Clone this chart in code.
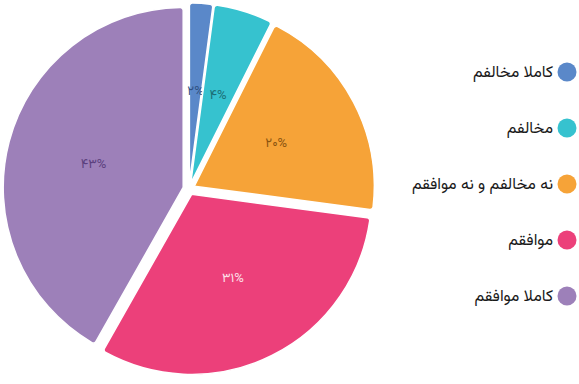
<!DOCTYPE html>
<html>
<head>
<meta charset="utf-8">
<script src="https://cdn.jsdelivr.net/npm/d3@7"></script>
<style>
  body { margin: 0; background: #fff; }
  text { font-family: Vazirmatn, "DejaVu Sans", sans-serif; }
</style>
</head>
<body>
<div class="canvas"></div>
<script>
const categories = ["کاملا مخالفم", "مخالفم", "نه مخالفم و نه موافقم", "موافقم", "کاملا موافقم"];
const values = [2.1, 5.3, 19.7, 31.1, 41.8];
const valueLabels = ["۲%", "۴%", "۲۰%", "۳۱%", "۴۳%"];
const colors = ["#5a88c9", "#36c2cf", "#f6a338", "#ec407a", "#9d80b9"];
const labelColors = ["#2f4f80", "#1b6e76", "#8a5410", "#fde0ea", "#5b3f7d"];

const dims = { width: 579, height: 384, radius: 180, offset: 6 };
const cent = { x: 189, y: 189 };

const data = categories.map((name, i) => ({ name, value: values[i], i }));

const svg = d3
  .select(".canvas")
  .append("svg")
  .attr("width", dims.width)
  .attr("height", dims.height);

const graph = svg
  .append("g")
  .attr("transform", `translate(${cent.x}, ${cent.y})`);

const pie = d3
  .pie()
  .sort(null)
  .value((d) => d.value);

const arcPath = d3
  .arc()
  .outerRadius(dims.radius)
  .innerRadius(0)
  .cornerRadius(3);

const labelArc = d3
  .arc()
  .outerRadius(dims.radius * 1.03)
  .innerRadius(0);

// push each slice out a little along its middle angle
const shift = (d) => {
  const a = (d.startAngle + d.endAngle) / 2;
  return [Math.sin(a) * dims.offset, -Math.cos(a) * dims.offset];
};

const slices = graph
  .selectAll("g.slice")
  .data(pie(data))
  .enter()
  .append("g")
  .attr("class", "slice")
  .attr("transform", (d) => `translate(${shift(d)})`);

slices
  .append("path")
  .attr("d", arcPath)
  .attr("fill", (d) => colors[d.data.i])
  .attr("stroke", "#fff")
  .attr("stroke-width", 1.5);

slices
  .append("text")
  .attr("transform", (d) => `translate(${labelArc.centroid(d)})`)
  .attr("text-anchor", "middle")
  .attr("dy", "0.35em")
  .attr("font-size", 13)
  .attr("fill", (d) => labelColors[d.data.i])
  .text((d) => valueLabels[d.data.i]);

// legend
const legend = svg
  .append("g")
  .attr("transform", "translate(567, 72)");

const items = legend
  .selectAll("g")
  .data(data)
  .enter()
  .append("g")
  .attr("transform", (d, i) => `translate(0, ${i * 56})`);

items
  .append("circle")
  .attr("r", 9.5)
  .attr("fill", (d) => colors[d.i]);

items
  .append("text")
  .attr("x", -14)
  .attr("dy", "0.3em")
  .attr("text-anchor", "end")
  .attr("font-size", 16)
  .attr("fill", "#1a1a1a")
  .text((d) => d.name);
</script>
</body>
</html>
